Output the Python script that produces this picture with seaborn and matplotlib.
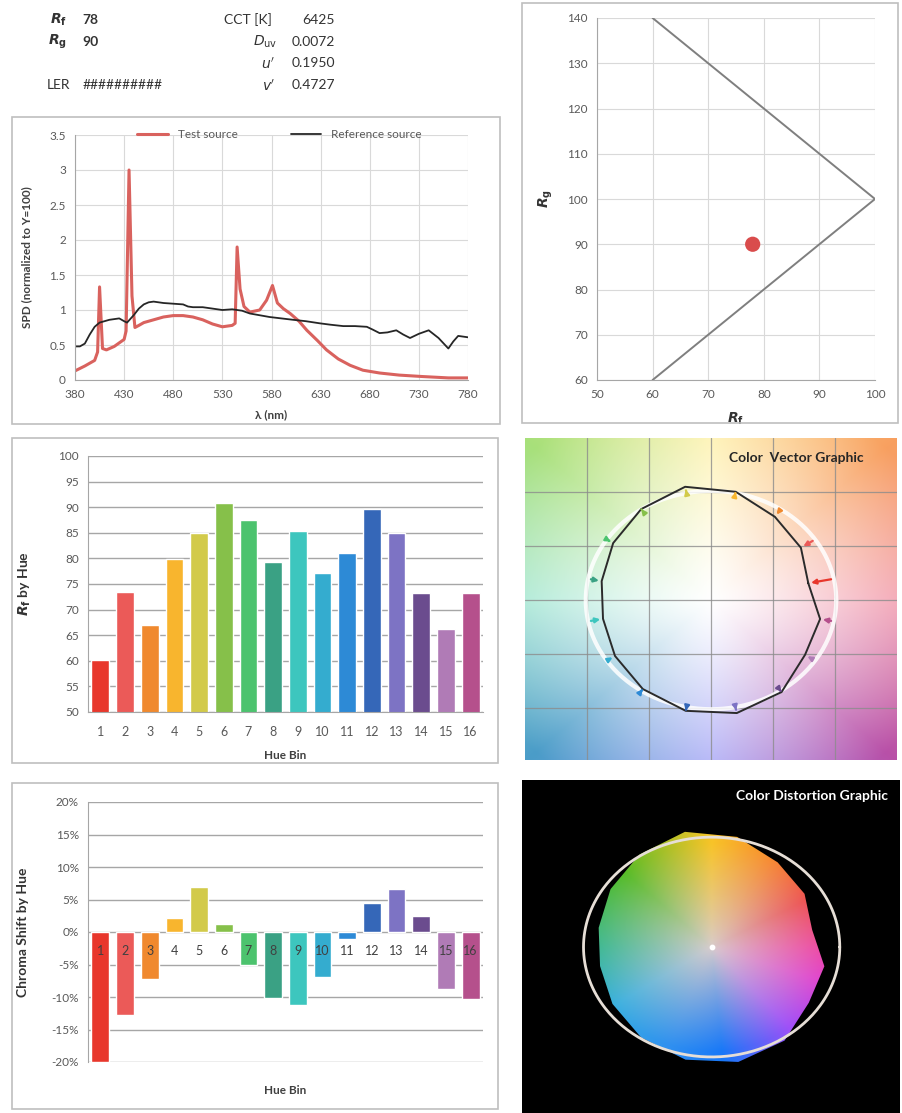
import numpy as np
import pandas as pd
import matplotlib
matplotlib.use("Agg")
import matplotlib.pyplot as plt
import seaborn as sns
from matplotlib.patches import Rectangle, Polygon
from matplotlib.colors import to_rgb

# %%
# summary values
rf_value = 78
rg_value = 90
cct_value = 6425
duv_value = 0.0072
u_prime = 0.1950
v_prime = 0.4727

# spectral power distributions
test_wl = [380, 390, 400, 403, 405, 408, 412, 420, 430, 432, 435, 438, 441, 445, 450, 460, 470,
           480, 490, 500, 510, 520, 530, 540, 543, 545, 548, 552, 558, 568, 575, 581, 586, 592,
           599, 608, 616, 627, 636, 648, 660, 673, 690, 710, 733, 760, 780]
test_spd = [0.13, 0.20, 0.28, 0.40, 1.33, 0.45, 0.43, 0.48, 0.58, 0.70, 3.00, 1.20, 0.75, 0.78,
            0.82, 0.86, 0.90, 0.92, 0.92, 0.90, 0.86, 0.80, 0.76, 0.78, 0.81, 1.90, 1.30, 1.05,
            0.97, 1.00, 1.14, 1.35, 1.10, 1.02, 0.95, 0.84, 0.71, 0.56, 0.43, 0.30, 0.21, 0.14,
            0.10, 0.07, 0.05, 0.03, 0.03]

ref_wl = [380, 385, 390, 395, 400, 405, 410, 415, 420, 425, 430, 433, 440, 445, 450, 455, 460,
          465, 470, 480, 490, 495, 500, 510, 520, 530, 540, 550, 558, 570, 578, 590, 602, 615,
          629, 640, 653, 665, 677, 683, 690, 698, 707, 714, 721, 730, 740, 750, 760, 765, 770, 780]
ref_spd = [0.48, 0.48, 0.52, 0.65, 0.76, 0.82, 0.84, 0.86, 0.87, 0.88, 0.84, 0.82, 0.93, 1.02,
           1.08, 1.11, 1.12, 1.11, 1.10, 1.09, 1.08, 1.05, 1.04, 1.04, 1.02, 1.00, 1.01, 0.99,
           0.95, 0.92, 0.90, 0.88, 0.86, 0.84, 0.81, 0.79, 0.77, 0.77, 0.76, 0.72, 0.67, 0.68,
           0.71, 0.65, 0.60, 0.66, 0.71, 0.60, 0.45, 0.55, 0.63, 0.61]

# gamut boundary of the Rf-Rg chart
bound_rf = [60, 100, 60]
bound_rg = [140, 100, 60]

# hue bins
hue_bins = [str(i) for i in range(1, 17)]
rf_by_hue = [60.1, 73.4, 67.0, 79.9, 85.0, 90.8, 87.5, 79.2, 85.3, 77.2, 81.0, 89.6, 84.9, 73.3, 66.2, 73.2]
chroma_shift = [-20.0, -12.8, -7.3, 2.2, 6.9, 1.3, -5.1, -10.1, -11.2, -6.9, -1.0, 4.5, 6.6, 2.4, -8.8, -10.3]
bin_colors = ["#E8372C", "#EB5A58", "#F0892E", "#F8B52E", "#D2CA4A", "#86C04A", "#4CC36E", "#3AA184",
              "#3DC6BE", "#34ACCF", "#2D8AD6", "#3567B8", "#7D73C4", "#6B4C8E", "#B07BB6", "#B5508C"]

# %%
sns.set_style("white")
plt.rcParams["font.family"] = ["Lato", "DejaVu Sans"]
TXT = "#595959"
GRID = "#D9D9D9"

W, H = 903, 1113
fig = plt.figure(figsize=(W / 100, H / 100), dpi=100)


def add_axes(x0, y0, x1, y1):
    return fig.add_axes([x0 / W, 1 - y1 / H, (x1 - x0) / W, (y1 - y0) / H])


def frame(x0, y0, x1, y1):
    fig.add_artist(Rectangle((x0 / W, 1 - y1 / H), (x1 - x0) / W, (y1 - y0) / H,
                             transform=fig.transFigure, fill=False, edgecolor="#BFBFBF", lw=1.2))


def ftext(x, y, s, **kw):
    kw.setdefault("fontsize", 10)
    kw.setdefault("color", "#333333")
    fig.text(x / W, 1 - y / H, s, va="center", **kw)


def style_axis(ax):
    for side in ["top", "right"]:
        ax.spines[side].set_visible(False)
    for side in ["left", "bottom"]:
        ax.spines[side].set_color("#A6A6A6")
    ax.tick_params(labelsize=8.5, colors=TXT, length=3, color="#A6A6A6")


# %%
# header
ftext(67, 20, r"$\mathbfit{R}_\mathbf{f}$", ha="right")
ftext(82, 20, str(rf_value), fontweight="bold")
ftext(67, 42, r"$\mathbfit{R}_\mathbf{g}$", ha="right")
ftext(82, 42, str(rg_value), fontweight="bold")
ftext(70, 85, "LER", ha="right")
ftext(83, 85, "##########")
ftext(272, 20, "CCT [K]", ha="right")
ftext(335, 20, f"{cct_value}", ha="right")
ftext(277, 42, r"$\mathit{D}_\mathrm{uv}$", ha="right")
ftext(335, 42, f"{duv_value:.4f}", ha="right")
ftext(275, 63, r"$\mathit{u'}$", ha="right")
ftext(335, 63, f"{u_prime:.4f}", ha="right")
ftext(275, 85, r"$\mathit{v'}$", ha="right")
ftext(335, 85, f"{v_prime:.4f}", ha="right")

# %%
# SPD chart
frame(12, 117, 500, 424)
ax = add_axes(75, 135, 468, 380)
sns.lineplot(x=test_wl, y=test_spd, color="#D9625E", lw=2.2, label="Test source", ax=ax)
sns.lineplot(x=ref_wl, y=ref_spd, color="#262626", lw=1.3, label="Reference source", ax=ax)
ax.set_xlim(380, 780)
ax.set_ylim(0, 3.5)
ax.set_xticks(range(380, 781, 50))
yt = np.arange(0, 3.51, 0.5)
ax.set_yticks(yt)
ax.set_yticklabels([f"{v:g}" for v in yt])
ax.grid(True, color=GRID, lw=0.8)
style_axis(ax)
ax.set_ylabel("SPD (normalized to Y=100)", fontsize=8.5, fontweight="bold", color="#404040")
ax.yaxis.set_label_coords(-0.11, 0.5)
ax.set_xlabel("λ (nm)", fontsize=8.5, fontweight="bold", color="#404040")
ax.xaxis.set_label_coords(0.5, -0.12)
ax.legend(loc="center", bbox_to_anchor=(0.52, 1.0), ncol=2, frameon=False, fontsize=8.5,
          handlelength=2.6, columnspacing=4.5, labelcolor=TXT)

# %%
# Rf - Rg chart
frame(522, 3, 898, 423)
ax = add_axes(597, 18, 875, 380)
sns.lineplot(x=bound_rf, y=bound_rg, sort=False, estimator=None, color="#7F7F7F", lw=1.4, ax=ax)
sns.scatterplot(x=[rf_value], y=[rg_value], s=120, color="#D94C4C", edgecolor="none", ax=ax, zorder=5)
ax.set_xlim(50, 100)
ax.set_ylim(60, 140)
ax.set_xticks(range(50, 101, 10))
ax.set_yticks(range(60, 141, 10))
ax.grid(True, color=GRID, lw=0.8)
style_axis(ax)
ax.set_ylabel(r"$\mathbfit{R}_\mathbf{g}$", fontsize=10, color="#333333")
ax.yaxis.set_label_coords(-0.15, 0.5)
ax.set_xlabel(r"$\mathbfit{R}_\mathbf{f}$", fontsize=10, color="#333333")
ax.xaxis.set_label_coords(0.5, -0.085)

# %%
# Rf by hue
frame(12, 438, 498, 763)
ax = add_axes(88, 456, 483, 712)
sns.barplot(x=hue_bins, y=rf_by_hue, hue=hue_bins, palette=bin_colors, legend=False,
            width=0.72, saturation=1, ax=ax)
ax.set_ylim(50, 100)
ax.set_xlim(-0.5, 15.5)
ax.set_yticks(range(50, 101, 5))
ax.grid(True, axis="y", color="#A6A6A6", lw=1)
ax.set_axisbelow(True)
style_axis(ax)
ax.tick_params(axis="x", length=0, pad=10, labelsize=9)
ax.set_ylabel(r"$\mathbfit{R}_\mathbf{f}$ by Hue", fontsize=10, fontweight="bold", color="#333333")
ax.yaxis.set_label_coords(-0.14, 0.5)
ax.set_xlabel("Hue Bin", fontsize=8.5, fontweight="bold", color="#404040")
ax.xaxis.set_label_coords(0.5, -0.15)

# %%
# chroma shift by hue
frame(12, 783, 498, 1109)
ax = add_axes(88, 802, 483, 1062)
sns.barplot(x=hue_bins, y=chroma_shift, hue=hue_bins, palette=bin_colors, legend=False,
            width=0.72, saturation=1, ax=ax)
ax.set_ylim(-20, 20)
ax.set_xlim(-0.5, 15.5)
ax.set_yticks(range(-20, 21, 5))
ax.set_yticklabels([f"{v}%" for v in range(-20, 21, 5)])
ax.grid(True, axis="y", color="#A6A6A6", lw=1)
ax.set_axisbelow(True)
style_axis(ax)
ax.spines["bottom"].set_visible(False)
ax.set_xticks([])
for i, lab in enumerate(hue_bins):
    ax.text(i, -2.9, lab, ha="center", va="center", fontsize=9, color="#404040")
ax.set_ylabel("Chroma Shift by Hue", fontsize=10, fontweight="bold", color="#333333")
ax.yaxis.set_label_coords(-0.15, 0.5)
ax.set_xlabel("Hue Bin", fontsize=8.5, fontweight="bold", color="#404040")
ax.xaxis.set_label_coords(0.5, -0.088)

# %%
# polar positions of the 16 hue bins
theta = np.radians((np.arange(16) + 0.5) * 22.5)
radius = 1 + np.array(chroma_shift) / 100
test_x, test_y = radius * np.cos(theta), radius * np.sin(theta)
ref_x, ref_y = np.cos(theta), np.sin(theta)
circ = np.linspace(0, 2 * np.pi, 361)


def wheel(anchor_deg, anchor_hex, n=400):
    g = np.linspace(-1.5, 1.5, n)
    xx, yy = np.meshgrid(g, g)
    ang = np.degrees(np.arctan2(yy, xx)) % 360
    deg = np.r_[anchor_deg, anchor_deg[0] + 360]
    rgb = np.array([to_rgb(c) for c in anchor_hex + anchor_hex[:1]])
    img = np.stack([np.interp(ang, deg, rgb[:, k]) for k in range(3)], axis=-1)
    return img, np.hypot(xx, yy)


# color vector graphic
ax = add_axes(525, 438, 897, 760)
img, rr = wheel([0, 45, 90, 135, 180, 225, 270, 315],
                ["#F08CA0", "#F8A060", "#FFF0A0", "#A8E07A", "#98E4CC", "#4A9CC8", "#9C9CF5", "#B850A8"])
t = np.clip(rr / 2.0, 0, 1)[..., None] ** 1.2
img = (1 - t) * 1.0 + t * img
ax.imshow(img, extent=(-1.5, 1.5, -1.5, 1.5), origin="lower", aspect="auto", zorder=0)
ax.set_xticks([-1, -0.5, 0, 0.5, 1])
ax.set_yticks([-1, -0.5, 0, 0.5, 1])
ax.grid(True, color="#8C8C8C", lw=0.9, alpha=0.8)
ax.tick_params(length=0, labelbottom=False, labelleft=False)
for s in ax.spines.values():
    s.set_visible(False)
ax.plot(np.cos(circ) * 1.01, np.sin(circ) * 1.01, color="white", lw=3, alpha=0.85, zorder=2)
ax.plot(np.r_[test_x, test_x[:1]], np.r_[test_y, test_y[:1]], color="#2B2B2B", lw=1.4, zorder=3)
for i in range(16):
    ax.annotate("", xy=(test_x[i], test_y[i]), xytext=(ref_x[i] * 1.01, ref_y[i] * 1.01),
                arrowprops=dict(arrowstyle="-|>", color=bin_colors[i], lw=1.6, mutation_scale=7),
                zorder=4)
ax.set_xlim(-1.5, 1.5)
ax.set_ylim(-1.48, 1.5)
ax.text(0.91, 0.938, "Color  Vector Graphic", transform=ax.transAxes, ha="right", va="center",
        fontsize=10, fontweight="bold", color="#262626")

# %%
# color distortion graphic
ax = add_axes(522, 780, 900, 1113)
ax.set_facecolor("black")
img, rr = wheel([0, 30, 60, 90, 135, 180, 215, 250, 275, 310, 340],
                ["#F040A0", "#F04848", "#F88A30", "#F8C428", "#58BC28", "#38B890", "#38B0E0",
                 "#3090F0", "#1878F8", "#A050F8", "#E040D0"])
t = np.clip(rr / 0.95, 0, 1)[..., None] ** 0.9
img = (1 - t) * np.array(to_rgb("#D8CCCC")) + t * img
im = ax.imshow(img, extent=(-1.5, 1.5, -1.5, 1.5), origin="lower", aspect="auto", zorder=1)
shape = Polygon(np.c_[test_x, test_y], closed=True, transform=ax.transData,
                facecolor="none", edgecolor="none")
ax.add_patch(shape)
im.set_clip_path(shape)
ax.plot(np.cos(circ), np.sin(circ), color="#E6DED6", lw=2, zorder=3)
ax.scatter([0], [0], s=10, color="white", zorder=4)
ax.set_xlim(-1.48, 1.47)
ax.set_ylim(-1.51, 1.52)
ax.set_xticks([])
ax.set_yticks([])
for s in ax.spines.values():
    s.set_visible(False)
ax.text(0.968, 0.952, "Color Distortion Graphic", transform=ax.transAxes, ha="right", va="center",
        fontsize=10, fontweight="bold", color="white")

fig.savefig("out.png", dpi=100, facecolor="white")
